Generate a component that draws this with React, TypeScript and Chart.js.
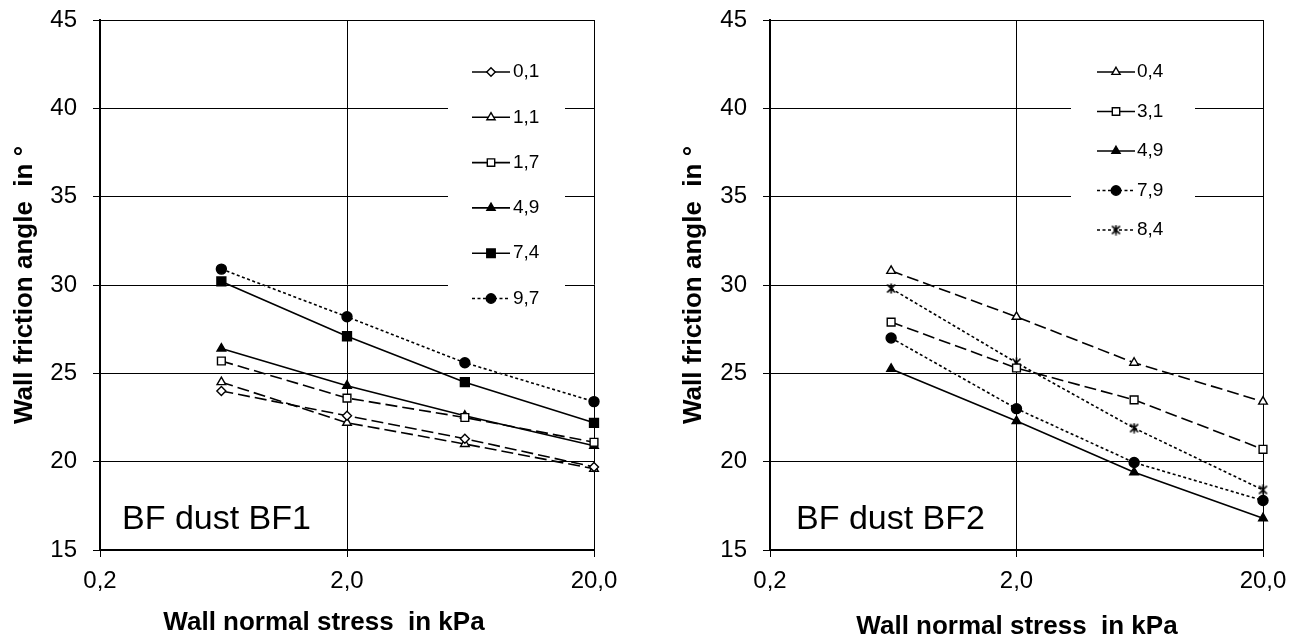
import React, { useEffect, useRef } from 'react';
import { Chart, registerables } from 'chart.js';
import { drawPoint } from 'chart.js/helpers';

Chart.register(...registerables);

// ---------- data ----------
const stressKPa = [0.62, 2, 6, 20];
const xTickValues = [0.2, 2, 20];
const xTickLabels = ['0,2', '2,0', '20,0'];
const yTickValues = [15, 20, 25, 30, 35, 40, 45];

const bf1Labels = ['0,1', '1,1', '1,7', '4,9', '7,4', '9,7'];
const bf1_01 = [24.0, 22.6, 21.3, 19.7];
const bf1_11 = [24.5, 22.2, 21.0, 19.6];
const bf1_17 = [25.7, 23.6, 22.5, 21.1];
const bf1_49 = [26.4, 24.3, 22.6, 20.9];
const bf1_74 = [30.2, 27.1, 24.5, 22.2];
const bf1_97 = [30.9, 28.2, 25.6, 23.4];

const bf2Labels = ['0,4', '3,1', '4,9', '7,9', '8,4'];
const bf2_04 = [30.8, 28.2, 25.6, 23.4];
const bf2_31 = [27.9, 25.3, 23.5, 20.7];
const bf2_49 = [25.25, 22.3, 19.4, 16.8];
const bf2_79 = [27.0, 23.0, 19.95, 17.8];
const bf2_84 = [29.8, 25.6, 21.9, 18.4];

const yTitle = 'Wall friction angle  in °';
const xTitle = 'Wall normal stress  in kPa';

// ---------- styles ----------
const LONG_DASH = [12, 5];
const DOT_DASH = [3, 2.5];
const FAMILY = "'Liberation Sans', Arial, sans-serif";

type Style = { marker: string; filled: boolean; dash: number[]; legendDash: number[]; radius: number };

const bf1Styles: Style[] = [
  { marker: 'rectRot', filled: false, dash: LONG_DASH, legendDash: [], radius: 4.5 },
  { marker: 'triangle', filled: false, dash: LONG_DASH, legendDash: [], radius: 5 },
  { marker: 'rect', filled: false, dash: LONG_DASH, legendDash: [], radius: 5.5 },
  { marker: 'triangle', filled: true, dash: [], legendDash: [], radius: 5 },
  { marker: 'rect', filled: true, dash: [], legendDash: [], radius: 6.3 },
  { marker: 'circle', filled: true, dash: DOT_DASH, legendDash: DOT_DASH, radius: 5 },
];
const bf2Styles: Style[] = [
  { marker: 'triangle', filled: false, dash: LONG_DASH, legendDash: [], radius: 5 },
  { marker: 'rect', filled: false, dash: LONG_DASH, legendDash: [], radius: 5.5 },
  { marker: 'triangle', filled: true, dash: [], legendDash: [], radius: 5 },
  { marker: 'circle', filled: true, dash: DOT_DASH, legendDash: DOT_DASH, radius: 5 },
  { marker: 'star', filled: false, dash: DOT_DASH, legendDash: DOT_DASH, radius: 5 },
];

function makeStar(): HTMLCanvasElement {
  const c = document.createElement('canvas');
  c.width = 11;
  c.height = 11;
  const g = c.getContext('2d')!;
  g.strokeStyle = '#000';
  g.lineWidth = 1.7;
  g.beginPath();
  g.moveTo(1.5, 1.5); g.lineTo(9.5, 9.5);
  g.moveTo(9.5, 1.5); g.lineTo(1.5, 9.5);
  g.moveTo(5.5, 0.5); g.lineTo(5.5, 10.5);
  g.stroke();
  return c;
}

function makeDataset(label: string, values: number[], style: Style, star: HTMLCanvasElement) {
  return {
    label,
    data: stressKPa.map((x, i) => ({ x, y: values[i] })),
    borderColor: '#000',
    borderWidth: 1.6,
    borderDash: style.dash,
    legendDash: style.legendDash,
    pointStyle: style.marker === 'star' ? star : style.marker,
    pointRadius: style.radius,
    pointHoverRadius: style.radius,
    pointBackgroundColor: style.filled ? '#000' : '#fff',
    pointBorderColor: '#000',
    pointBorderWidth: 1.4,
    tension: 0,
    clip: false,
    fill: false,
  };
}

type Geom = {
  right: number; yAxisWidth: number; yTitlePad: number;
  legendBox: [number, number, number, number]; lineX0: number; lineX1: number; textX: number; rowY: number; rowStep: number;
  xTitleX: number; xTitleY: number; tagText: string; tagX: number; tagY: number;
};

function makeOverlayPlugin(g: Geom) {
  return {
    id: 'overlay',
    afterDatasetsDraw(chart: any) {
      const ctx: CanvasRenderingContext2D = chart.ctx;
      ctx.save();
      // legend
      ctx.fillStyle = '#fff';
      ctx.fillRect(g.legendBox[0], g.legendBox[1], g.legendBox[2], g.legendBox[3]);
      chart.data.datasets.forEach((ds: any, i: number) => {
        const y = g.rowY + i * g.rowStep;
        ctx.beginPath();
        ctx.setLineDash(ds.legendDash || []);
        ctx.strokeStyle = '#000';
        ctx.lineWidth = 1.6;
        ctx.moveTo(g.lineX0, y);
        ctx.lineTo(g.lineX1, y);
        ctx.stroke();
        ctx.setLineDash([]);
        ctx.fillStyle = ds.pointBackgroundColor;
        ctx.strokeStyle = ds.pointBorderColor;
        ctx.lineWidth = ds.pointBorderWidth;
        drawPoint(ctx, { pointStyle: ds.pointStyle, radius: ds.pointRadius * 0.95, borderWidth: ds.pointBorderWidth, rotation: 0 } as any,
          (g.lineX0 + g.lineX1) / 2, y);
        ctx.fillStyle = '#000';
        ctx.font = `19px ${FAMILY}`;
        ctx.textBaseline = 'middle';
        ctx.textAlign = 'left';
        ctx.fillText(ds.label, g.textX, y);
      });
      // x title
      ctx.fillStyle = '#000';
      ctx.font = `bold 26px ${FAMILY}`;
      ctx.textAlign = 'center';
      ctx.textBaseline = 'middle';
      ctx.fillText(xTitle, g.xTitleX, g.xTitleY);
      // dust tag
      ctx.font = `34px ${FAMILY}`;
      ctx.textAlign = 'left';
      ctx.textBaseline = 'alphabetic';
      ctx.fillText(g.tagText, g.tagX, g.tagY);
      ctx.restore();
    },
  };
}

function makeConfig(datasets: any[], g: Geom) {
  const tickFont = { family: FAMILY, size: 24 };
  const grid = { color: '#000', lineWidth: 1, tickLength: 7, drawTicks: true, tickColor: '#000' };
  const border = { color: '#000', width: 2 };
  return {
    type: 'line',
    data: { datasets },
    options: {
      animation: false,
      responsive: false,
      maintainAspectRatio: false,
      layout: { padding: { left: 0, top: 20, right: g.right, bottom: 0 } },
      plugins: { legend: { display: false }, tooltip: { enabled: false } },
      events: [],
      scales: {
        x: {
          type: 'logarithmic',
          min: 0.2,
          max: 20,
          position: 'bottom',
          afterBuildTicks: (s: any) => { s.ticks = xTickValues.map((v) => ({ value: v })); },
          afterFit: (s: any) => { s.height = 91; s.paddingLeft = 0; s.paddingRight = 0; },
          ticks: {
            callback: (_v: any, i: number) => xTickLabels[i],
            font: tickFont, color: '#000', padding: 10, maxRotation: 0, autoSkip: false,
          },
          grid,
          border,
        },
        y: {
          type: 'linear',
          min: 15,
          max: 45,
          afterBuildTicks: (s: any) => { s.ticks = yTickValues.map((v) => ({ value: v })); },
          afterFit: (s: any) => { s.width = g.yAxisWidth; s.paddingTop = 0; s.paddingBottom = 0; },
          ticks: { font: tickFont, color: '#000', padding: 16, callback: (v: any) => String(v) },
          grid,
          border,
          title: {
            display: true, text: yTitle, color: '#000',
            font: { family: FAMILY, size: 26, weight: 'bold' },
            padding: { top: g.yTitlePad, bottom: 0 },
          },
        },
      },
    },
    plugins: [makeOverlayPlugin(g)],
  };
}

const leftGeom: Geom = {
  right: 56, yAxisWidth: 100, yTitlePad: 9,
  legendBox: [448, 48, 117, 272], lineX0: 472, lineX1: 510, textX: 513, rowY: 72, rowStep: 45.3,
  xTitleX: 324, xTitleY: 623, tagText: 'BF dust BF1', tagX: 122, tagY: 529,
};
const rightGeom: Geom = {
  right: 36, yAxisWidth: 120, yTitlePad: 28,
  legendBox: [421, 48, 124, 205], lineX0: 447, lineX1: 485, textX: 487, rowY: 72, rowStep: 39.5,
  xTitleX: 367, xTitleY: 627, tagText: 'BF dust BF2', tagX: 146, tagY: 529,
};

function ChartCanvas({ which, left, width }: { which: 1 | 2; left: number; width: number }) {
  const ref = useRef<HTMLCanvasElement | null>(null);
  useEffect(() => {
    if (!ref.current) return;
    const star = makeStar();
    let datasets: any[];
    if (which === 1) {
      const vals = [bf1_01, bf1_11, bf1_17, bf1_49, bf1_74, bf1_97];
      datasets = vals.map((v, i) => makeDataset(bf1Labels[i], v, bf1Styles[i], star));
    } else {
      const vals = [bf2_04, bf2_31, bf2_49, bf2_79, bf2_84];
      datasets = vals.map((v, i) => makeDataset(bf2Labels[i], v, bf2Styles[i], star));
    }
    const chart = new Chart(ref.current, makeConfig(datasets, which === 1 ? leftGeom : rightGeom) as any);
    return () => chart.destroy();
  }, [which]);
  return (
    <canvas
      ref={ref}
      width={width}
      height={641}
      style={{ position: 'absolute', left, top: 0, width, height: 641, display: 'block' }}
    />
  );
}

export default function App() {
  return (
    <div style={{ position: 'absolute', left: 0, top: 0, width: 1299, height: 641, background: '#fff', overflow: 'hidden' }}>
      <ChartCanvas which={1} left={0} width={650} />
      <ChartCanvas which={2} left={650} width={649} />
    </div>
  );
}
